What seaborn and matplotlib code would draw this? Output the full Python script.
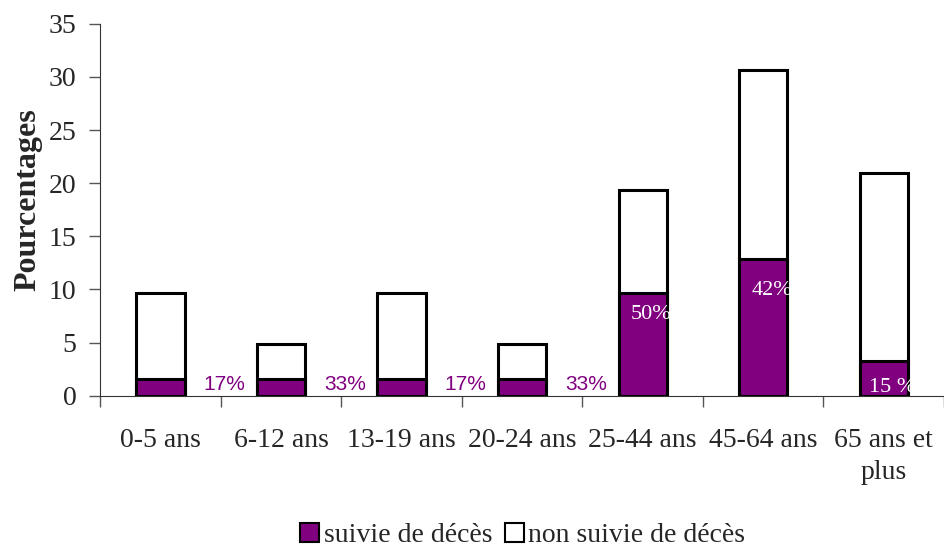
import numpy as np
import pandas as pd
import seaborn as sns
import matplotlib.pyplot as plt
from matplotlib.patches import Patch

# data (percent of 62 cases)
categories = ["0-5 ans", "6-12 ans", "13-19 ans", "20-24 ans",
              "25-44 ans", "45-64 ans", "65 ans et\nplus"]
suivie = [1.61, 1.61, 1.61, 1.61, 9.68, 12.90, 3.23]
non_suivie = [8.07, 3.23, 8.07, 3.23, 9.67, 17.75, 17.74]
pct_labels = ["17%", "33%", "17%", "33%", "50%", "42%", "15 %"]

df = pd.DataFrame({"cat": categories, "suivie": suivie, "non": non_suivie})
df["total"] = df["suivie"] + df["non"]

sns.set_style("white")
plt.rcParams["font.family"] = ["Liberation Serif", "DejaVu Serif"]

purple = "#800080"
fig = plt.figure(figsize=(9.45, 5.52), dpi=100)
ax = fig.add_axes([0.106, 0.283, 0.893, 0.674])

sns.barplot(data=df, x="cat", y="total", color="white", edgecolor="black",
            linewidth=2.2, width=0.4, ax=ax, saturation=1)
sns.barplot(data=df, x="cat", y="suivie", color=purple, edgecolor="black",
            linewidth=2.2, width=0.4, ax=ax, saturation=1)

# percentage labels
for i, lab in enumerate(pct_labels):
    if i < 4:
        ax.text(i + 0.53, 0.2, lab, color=purple, fontsize=15,
                family="Liberation Sans", ha="center", va="bottom")
    else:
        ypos = {4: 7.6, 5: 9.9, 6: 0.8}[i]
        ax.text(i + 0.07, ypos, lab, color="white", fontsize=16,
                ha="center", va="center")

ax.set_ylim(0, 35)
ax.set_xlim(-0.5, len(categories) - 0.5)
ax.set_yticks(range(0, 36, 5))
ax.set_ylabel("Pourcentages", fontsize=23, fontweight="bold")
ax.yaxis.set_label_coords(-0.069, 0.527)
ax.set_xlabel("")

ax.set_xticks(range(len(categories)))
ax.set_xticklabels(categories, fontsize=20, linespacing=1.4)
ax.set_xticks(np.arange(-0.5, len(categories), 1), minor=True)
ax.tick_params(axis="x", which="major", length=0, pad=23)
ax.tick_params(axis="x", which="minor", length=8, width=1, direction="out",
               color="#555555", bottom=True)
ax.tick_params(axis="y", labelsize=20, length=8, width=1, color="#555555",
               left=True, direction="out", pad=9)

sns.despine(ax=ax)
ax.spines["left"].set_color("#333333")
ax.spines["bottom"].set_color("#333333")

handles = [Patch(facecolor=purple, edgecolor="black", linewidth=1.5, label="suivie de décès"),
           Patch(facecolor="white", edgecolor="black", linewidth=1.5, label="non suivie de décès")]
fig.legend(handles=handles, loc="center", bbox_to_anchor=(0.553, 0.03), ncol=2,
           frameon=False, fontsize=20, handlelength=0.7, handleheight=0.7,
           handletextpad=0.15, columnspacing=0.45, borderpad=0.2)

fig.savefig("out.png", dpi=100)
